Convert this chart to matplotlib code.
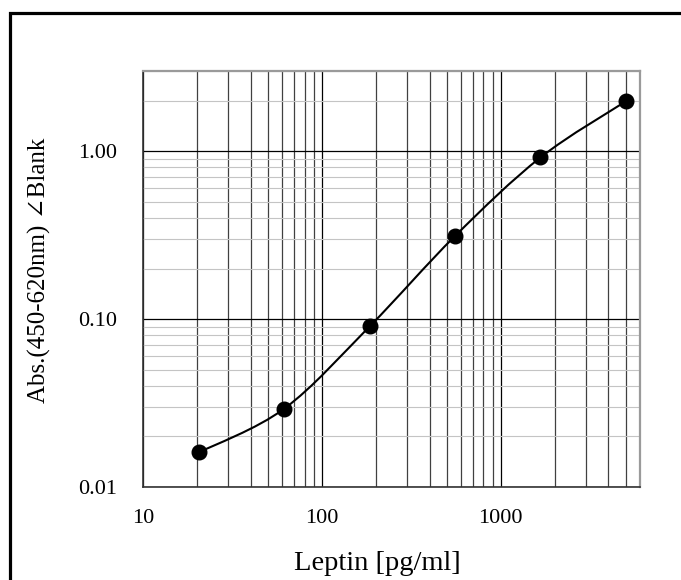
import numpy as np
import matplotlib
matplotlib.use("Agg")
import matplotlib.pyplot as plt
from matplotlib.path import Path
from matplotlib.patches import PathPatch, Rectangle
from matplotlib.ticker import FixedLocator, LogLocator, NullFormatter

# standard concentrations and absorbances
leptin = [20.6, 61.7, 185, 556, 1667, 5000]
absorb = [0.0161, 0.0293, 0.0905, 0.313, 0.917, 1.98]
x_ticks = [10, 100, 1000]
x_tick_labels = ["10", "100", "1000"]
y_ticks = [0.01, 0.1, 1.0]
y_tick_labels = ["0.01", "0.10", "1.00"]

plt.rcParams['font.family'] = ['Liberation Serif', 'DejaVu Serif', 'DejaVu Sans']

W, H = 681, 580
fig = plt.figure(figsize=(W / 100, H / 100), dpi=100)
ax = fig.add_axes([143 / W, 1 - 487 / H, (640 - 143) / W, (487 - 71) / H])
ax.set_xscale('log')
ax.set_yscale('log')
ax.set_xlim(10, 6000)
ax.set_ylim(0.01, 3)

# grid: dark major lines, dark vertical minor, light horizontal minor
ax.xaxis.set_major_locator(FixedLocator(x_ticks))
ax.xaxis.set_minor_locator(LogLocator(base=10, subs=np.arange(2, 10)))
ax.yaxis.set_major_locator(FixedLocator(y_ticks))
ax.yaxis.set_minor_locator(LogLocator(base=10, subs=np.arange(2, 10)))
ax.xaxis.set_minor_formatter(NullFormatter())
ax.yaxis.set_minor_formatter(NullFormatter())
ax.set_xticklabels(x_tick_labels)
ax.set_yticklabels(y_tick_labels)
ax.grid(True, which='major', axis='both', color='black', lw=0.9)
ax.grid(True, which='minor', axis='x', color='#404040', lw=0.9)
ax.grid(True, which='minor', axis='y', color='#c4c4c4', lw=0.8)
ax.set_axisbelow(True)
ax.tick_params(which='both', length=0, labelsize=16)
ax.tick_params(axis='x', pad=16)
ax.tick_params(axis='y', pad=18.7)
for side in ['top', 'right']:
    ax.spines[side].set_color('#9a9a9a')
    ax.spines[side].set_linewidth(1.6)
for side in ['left', 'bottom']:
    ax.spines[side].set_color('#333333')
    ax.spines[side].set_linewidth(1.2)

# smoothed line through the points (Catmull-Rom bezier in log space)
lx = np.log10(leptin)
ly = np.log10(absorb)
pts = np.column_stack([lx, ly])
n = len(pts)
verts = [pts[0]]
codes = [Path.MOVETO]
for i in range(n - 1):
    p0 = pts[max(i - 1, 0)]
    p1 = pts[i]
    p2 = pts[i + 1]
    p3 = pts[min(i + 2, n - 1)]
    c1 = p1 + (p2 - p0) / 6
    c2 = p2 - (p3 - p1) / 6
    verts += [c1, c2, p2]
    codes += [Path.CURVE4] * 3
verts = 10 ** np.array(verts)
ax.add_patch(PathPatch(Path(verts, codes), fill=False, ec='black', lw=1.5, zorder=3))
ax.plot(leptin, absorb, 'o', color='black', ms=10.5, zorder=4, clip_on=False)

fig.text(377 / W, 1 - 563 / H, "Leptin [pg/ml]", ha='center', va='center', fontsize=20.5)
fig.text(39 / W, 1 - 270 / H, "Abs.(450-620nm) ∠Blank", ha='center', va='center',
         rotation=90, fontsize=18)

# outer frame, only left and top edges fall inside the picture
fig.patches.append(Rectangle((9.5 / W, -0.1), 1.2, 1 - 12.5 / H + 0.1,
                             transform=fig.transFigure, fill=False,
                             ec='black', lw=2.3))

fig.savefig("out.png", dpi=100)
